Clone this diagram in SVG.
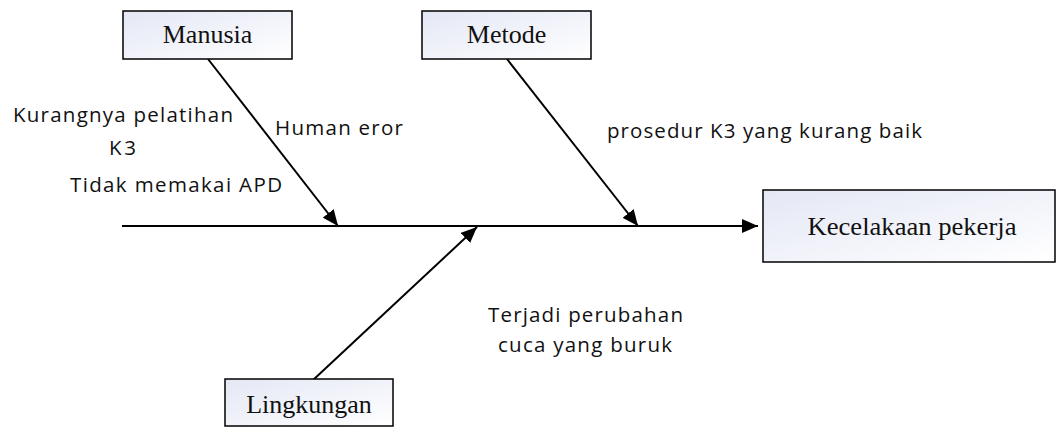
<svg xmlns="http://www.w3.org/2000/svg" width="1058" height="427" viewBox="0 0 1058 427">
  <defs>
    <linearGradient id="boxFill" x1="0" y1="0" x2="1" y2="1">
      <stop offset="0" stop-color="#e4e7f5"/>
      <stop offset="1" stop-color="#ffffff"/>
    </linearGradient>
    <marker id="head" viewBox="0 0 16 14" refX="16" refY="7" markerWidth="16" markerHeight="14" markerUnits="userSpaceOnUse" orient="auto">
      <path d="M0,0 L16,7 L0,14 Z" fill="#000"/>
    </marker>
  </defs>
  <style>
    .box { fill: url(#boxFill); stroke: #000; stroke-width: 1.5; }
    .boxText { font-family: "Liberation Serif", "Times New Roman", serif; font-size: 26px; fill: #111; }
    .cause { font-family: "Open Sans", "Liberation Sans", sans-serif; font-size: 20.5px; fill: #111; }
    .bone { stroke: #000; stroke-width: 2; fill: none; marker-end: url(#head); }
  </style>

  <!-- connectors: spine and the three category bones -->
  <g id="connectors">
    <line class="bone" x1="122" y1="226" x2="758" y2="226"/>
    <line class="bone" x1="208" y1="59" x2="338" y2="226"/>
    <line class="bone" x1="507" y1="59" x2="638" y2="226"/>
    <line class="bone" x1="312" y1="381" x2="477" y2="227"/>
  </g>

  <g id="manusia">
    <rect class="box" x="123" y="11" width="169" height="48"/>
    <text class="boxText" x="207.5" y="43" text-anchor="middle">Manusia</text>
  </g>

  <g id="metode">
    <rect class="box" x="422" y="11" width="169" height="48"/>
    <text class="boxText" x="506.5" y="43" text-anchor="middle">Metode</text>
  </g>

  <g id="kecelakaan">
    <rect class="box" x="763" y="190" width="292" height="72"/>
    <text class="boxText" x="912" y="235" text-anchor="middle" textLength="209" lengthAdjust="spacingAndGlyphs">Kecelakaan pekerja</text>
  </g>

  <g id="lingkungan">
    <rect class="box" x="225" y="379" width="168" height="47"/>
    <text class="boxText" x="309" y="413" text-anchor="middle">Lingkungan</text>
  </g>

  <!-- cause labels -->
  <g id="labels">
    <text class="cause" x="13" y="122" textLength="220" lengthAdjust="spacing">Kurangnya pelatihan</text>
    <text class="cause" x="109" y="155" textLength="27" lengthAdjust="spacing">K3</text>
    <text class="cause" x="70" y="192" textLength="212" lengthAdjust="spacing">Tidak memakai APD</text>
    <text class="cause" x="275" y="135" textLength="128" lengthAdjust="spacing">Human eror</text>
    <text class="cause" x="607" y="138" textLength="315" lengthAdjust="spacing">prosedur K3 yang kurang baik</text>
    <text class="cause" x="488" y="322" textLength="195" lengthAdjust="spacing">Terjadi perubahan</text>
    <text class="cause" x="498" y="352" textLength="174" lengthAdjust="spacing">cuca yang buruk</text>
  </g>
</svg>
